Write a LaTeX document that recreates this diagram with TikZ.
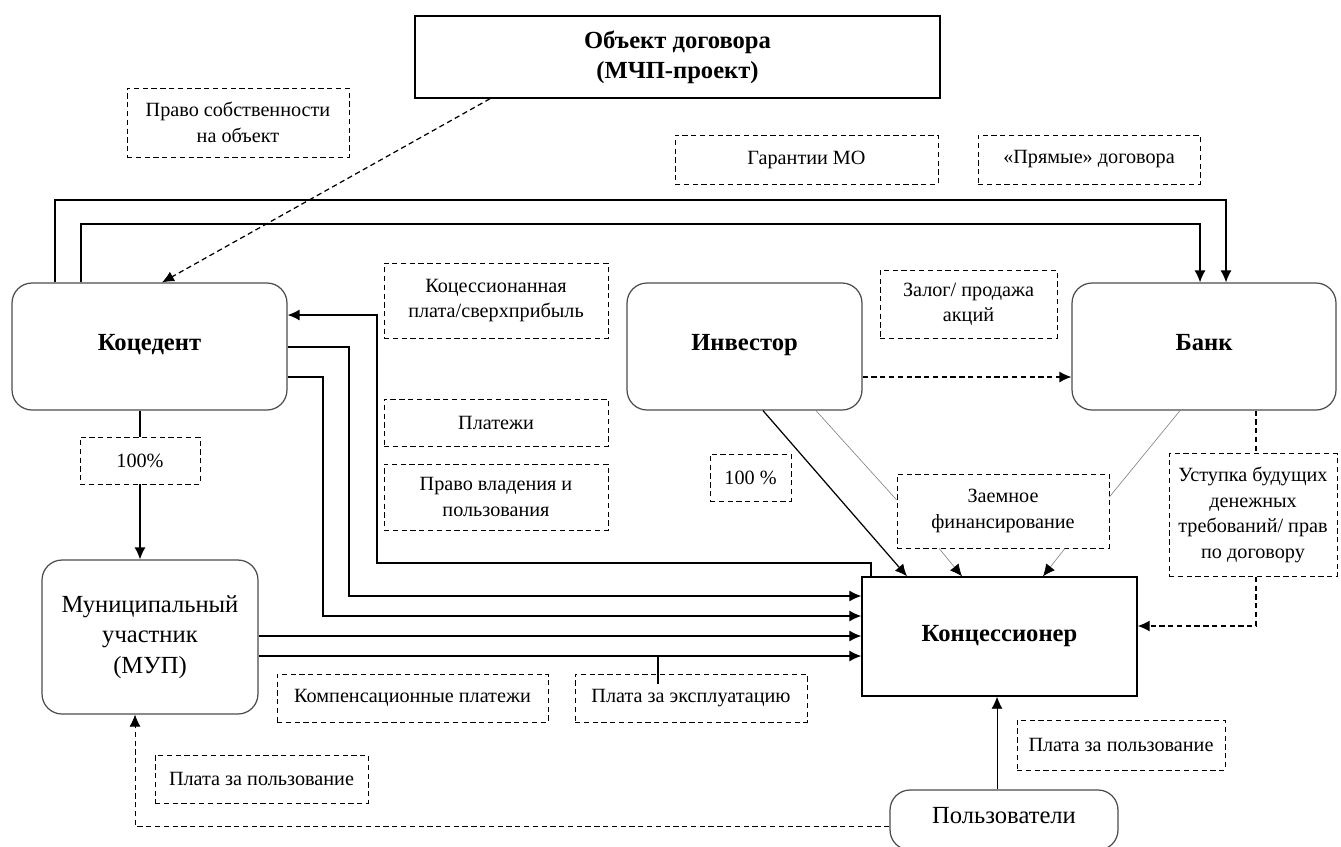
\documentclass[tikz,border=0pt]{standalone}
\usepackage{fontspec}
\setmainfont{Liberation Serif}
\usetikzlibrary{arrows.meta}

\tikzset{
    lbl/.style={draw, dash pattern=on 3pt off 2pt, align=center, inner sep=2pt,
        font=\fontsize{11.5}{14.5}\selectfont},
    party/.style={draw=black!70, line width=0.7pt, rounded corners=0.4cm, align=center,
        font=\fontsize{14}{17.5}\selectfont},
    head/.style={party, font=\fontsize{14}{17}\selectfont\bfseries, text height=1.6ex, text depth=0.5ex},
    mainbox/.style={draw, line width=0.8pt, align=center,
        font=\fontsize{14}{17}\selectfont\bfseries},
    flow/.style={-{Latex[length=2.4mm,width=2.2mm]}, line width=0.7pt},
    dflow/.style={flow, dash pattern=on 3pt off 2pt},
    greyline/.style={gray, line width=0.35pt},
    greyflow/.style={greyline, -{Latex[black,length=2.4mm,width=2.2mm]}},
}

\begin{document}
\begin{tikzpicture}[x=0.02cm, y=-0.02cm]
    \useasboundingbox (0,0) rectangle (1341,846);

    % участники
    \node[mainbox, minimum width=10.5cm, minimum height=1.64cm] (obj) at (677.5,57) {Объект договора\\(МЧП-проект)};
    \node[head, minimum width=5.5cm, minimum height=2.54cm] (koc) at (149.5,346.5) {Коцедент};
    \node[head, minimum width=4.7cm, minimum height=2.54cm] (inv) at (744.5,346.5) {Инвестор};
    \node[head, minimum width=5.28cm, minimum height=2.54cm] (bank) at (1204,346.5) {Банк};
    \node[party, minimum width=4.32cm, minimum height=3.08cm] (mup) at (150,637) {Муниципальный\\участник\\(МУП)};
    \node[mainbox, minimum width=5.5cm, minimum height=2.38cm] (konc) at (999.5,636.5) {Концессионер};
    \node[party, minimum width=4.56cm, minimum height=1.2cm, text depth=0.2cm] (users) at (1004,820) {Пользователи};

    % подписи
    \node[lbl, minimum width=4.44cm, minimum height=1.38cm] (sobst) at (238,122.5) {Право собственности\\на объект};
    \node[lbl, minimum width=5.26cm, minimum height=0.98cm] (garant) at (806.5,159.5) {Гарантии МО};
    \node[lbl, minimum width=4.44cm, minimum height=0.98cm] (pryam) at (1089,159.5) {«Прямые» договора};
    \node[lbl, minimum width=4.48cm, minimum height=1.5cm] (kplata) at (496,300.5) {Коцессионанная\\плата/сверхприбыль};
    \node[lbl, minimum width=4.48cm, minimum height=0.94cm] (plat) at (496,422.5) {Платежи};
    \node[lbl, minimum width=4.48cm, minimum height=1.32cm] (vlad) at (496,497) {Право владения и\\пользования};
    \node[lbl, minimum width=3.54cm, minimum height=1.36cm] (zalog) at (968.5,304) {Залог/ продажа\\акций};
    \node[lbl, minimum width=2.4cm, minimum height=0.94cm] (dolyaA) at (140,460.5) {100\%};
    \node[lbl, minimum width=1.62cm, minimum height=0.94cm] (dolyaB) at (750.5,477.5) {100 \%};
    \node[lbl, minimum width=4.24cm, minimum height=1.48cm] (zaem) at (1003,511) {Заемное\\финансирование};
    \node[lbl, minimum width=3.36cm, minimum height=2.46cm] (ust) at (1253,515) {Уступка будущих\\денежных\\требований/ прав\\по договору};
    \node[lbl, minimum width=5.42cm, minimum height=0.96cm] (komp) at (412.5,698) {Компенсационные платежи};
    \node[lbl, minimum width=4.64cm, minimum height=0.96cm] (expl) at (691,698) {Плата за эксплуатацию};
    \node[lbl, minimum width=4.16cm, minimum height=1.0cm] (polzR) at (1121,745) {Плата за пользование};
    \node[lbl, minimum width=4.26cm, minimum height=0.96cm] (polzL) at (261.5,779) {Плата за пользование};

    % точки изломов
    \coordinate (t1) at (55,200);
    \coordinate (t2) at (1226,200);
    \coordinate (t3) at (81,224);
    \coordinate (t4) at (1200,224);
    \coordinate (c1) at (871,563);
    \coordinate (c2) at (377,315);
    \coordinate (c3) at (349,347);
    \coordinate (c4) at (349,596);
    \coordinate (c5) at (323,377);
    \coordinate (c6) at (323,616);
    \coordinate (m1) at (600,636);
    \coordinate (m2) at (658,656);
    \coordinate (i1) at (960,377);
    \coordinate (u1) at (1256,626);
    \coordinate (u2) at (135,826);
    \coordinate (u3) at (997,760);

    % связи
    \draw[dflow] ([xshift=-3.75cm]obj.south) -- ([xshift=0.25cm]koc.north);
    \draw[flow] (koc.north -| t1) -- (t1) -- (t2) -- (bank.north -| t2);
    \draw[flow] (koc.north -| t3) -- (t3) -- (t4) -- (bank.north -| t4);
    \draw[flow] (konc.north -| c1) -- (c1) -| (c2) -- (koc.east |- c2);
    \draw[flow] (koc.east |- c3) -- (c3) -- (c4) -- (konc.west |- c4);
    \draw[flow] (koc.east |- c5) -- (c5) -- (c6) -- (konc.west |- c6);
    \draw[flow] (mup.east |- m1) -- (konc.west |- m1);
    \draw[flow] (mup.east |- m2) -- (konc.west |- m2);
    \draw[line width=1pt] (m2) -- ([yshift=-0.2cm]expl.north -| m2);
    \draw[line width=0.7pt] (koc.south -| dolyaA.north) -- (dolyaA.north);
    \draw[flow] (dolyaA.south) -- (mup.north -| dolyaA.south);
    \draw[dflow] (inv.east |- i1) -- (bank.west |- i1);
    \draw[flow] ([xshift=0.37cm]inv.south) -- ([xshift=-1.85cm]konc.north);
    \draw[greyline] ([xshift=1.43cm]inv.south) -- ([yshift=0.22cm]zaem.west);
    \draw[greyline] ([xshift=-0.48cm]bank.south) -- ([yshift=0.28cm]zaem.east);
    \draw[greyflow] ([xshift=-1.28cm]zaem.south) -- ([xshift=-0.75cm]konc.north);
    \draw[greyflow] ([xshift=1.24cm]zaem.south) -- ([xshift=0.87cm]konc.north);
    \draw[dash pattern=on 3pt off 2pt, line width=0.7pt] (bank.south -| u1) -- (ust.north -| u1);
    \draw[dflow] (ust.south -| u1) -- (u1) -- (konc.east |- u1);
    \draw[flow, line width=0.5pt] (users.north -| u3) -- (konc.south -| u3);
    \draw[dflow, line width=0.5pt] (users.west |- u2) -- (u2) -- (mup.south -| u2);
\end{tikzpicture}
\end{document}
